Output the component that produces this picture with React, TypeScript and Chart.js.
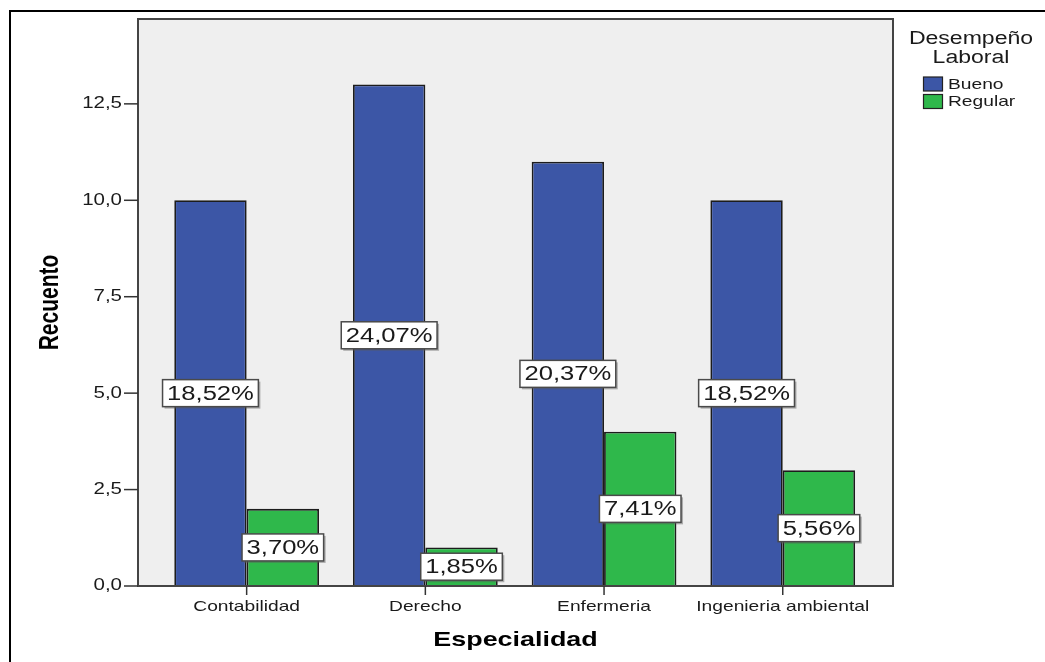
import { useEffect, useRef } from "react";
import { Chart, registerables } from "chart.js";

Chart.register(...registerables);

// Specialities on the x axis and counts per performance level
const CATEGORIES = ["Contabilidad", "Derecho", "Enfermeria", "Ingenieria ambiental"];
const BUENO = [10, 13, 11, 10];
const REGULAR = [2, 1, 4, 3];
const SERIES_LABELS = ["Bueno", "Regular"];
const Y_TICKS = [0, 2.5, 5, 7.5, 10, 12.5];
const LEGEND_TITLE = ["Desempeño", "Laboral"];
const X_TITLE = "Especialidad";
const Y_TITLE = "Recuento";

const BLUE = "#3c56a6";
const GREEN = "#2fb84b";
const FONT = "'Liberation Sans', Arial, sans-serif";
const SX = 1.28; // horizontal widening applied to all text

const TOTAL = [...BUENO, ...REGULAR].reduce((a, b) => a + b, 0);
const pct = (v: number) => ((v / TOTAL) * 100).toFixed(2).replace(".", ",") + "%";
const num = (v: number) => v.toFixed(1).replace(".", ",");

function text(
  ctx: CanvasRenderingContext2D,
  s: string,
  x: number,
  y: number,
  font: string,
  align: CanvasTextAlign,
  baseline: CanvasTextBaseline,
  color: string,
  rotate = 0
) {
  ctx.save();
  ctx.translate(x, y);
  ctx.scale(SX, 1);
  if (rotate) ctx.rotate(rotate);
  ctx.font = font;
  ctx.textAlign = align;
  ctx.textBaseline = baseline;
  ctx.fillStyle = color;
  ctx.fillText(s, 0, 0);
  ctx.restore();
}

const decorations = {
  id: "decorations",
  beforeDraw(chart: any) {
    const { ctx, chartArea: a } = chart;
    ctx.save();
    ctx.fillStyle = "#ffffff";
    ctx.fillRect(0, 0, chart.width, chart.height);
    // outer frame
    ctx.strokeStyle = "#000000";
    ctx.lineWidth = 2;
    ctx.strokeRect(10, 11, chart.width + 20, chart.height + 20);
    // plot background
    ctx.fillStyle = "#efefef";
    ctx.fillRect(a.left, a.top, a.right - a.left, a.bottom - a.top);
    ctx.restore();
  },
  afterDatasetsDraw(chart: any) {
    const { ctx, chartArea: a, scales } = chart;
    const x = scales.x;
    const y = scales.y;
    ctx.save();

    // plot frame
    ctx.strokeStyle = "#444444";
    ctx.lineWidth = 2;
    ctx.strokeRect(a.left, a.top, a.right - a.left, a.bottom - a.top);

    // y ticks and labels
    ctx.strokeStyle = "#333333";
    ctx.lineWidth = 1.5;
    Y_TICKS.forEach((t) => {
      const py = y.getPixelForValue(t);
      ctx.beginPath();
      ctx.moveTo(a.left - 14, py);
      ctx.lineTo(a.left, py);
      ctx.stroke();
      text(ctx, num(t), a.left - 16, py, `16px ${FONT}`, "right", "middle", "#1a1a1a");
    });

    // category ticks and labels
    CATEGORIES.forEach((c, i) => {
      const px = x.getPixelForValue(i);
      ctx.beginPath();
      ctx.moveTo(px, a.bottom);
      ctx.lineTo(px, a.bottom + 9);
      ctx.stroke();
      text(ctx, c, px, a.bottom + 25, `15px ${FONT}`, "center", "alphabetic", "#1a1a1a");
    });

    // axis titles
    text(ctx, X_TITLE, (a.left + a.right) / 2, 646, `bold 21px ${FONT}`, "center", "alphabetic", "#000000");
    text(ctx, Y_TITLE, 51, (a.top + a.bottom) / 2, `bold 21px ${FONT}`, "center", "middle", "#000000", -Math.PI / 2);

    // percentage labels centred on each bar
    chart.data.datasets.forEach((ds: any, di: number) => {
      const meta = chart.getDatasetMeta(di);
      meta.data.forEach((bar: any, i: number) => {
        const v = ds.data[i].y;
        const s = pct(v);
        const cy = (bar.y + bar.base) / 2;
        ctx.font = `20px ${FONT}`;
        const w = ctx.measureText(s).width * SX + 9;
        const h = 27;
        const bx = bar.x - w / 2;
        const by = cy - h / 2;
        ctx.fillStyle = "rgba(90,90,90,0.45)";
        ctx.fillRect(bx + 2, by + 2, w, h);
        ctx.fillStyle = "#ffffff";
        ctx.fillRect(bx, by, w, h);
        ctx.strokeStyle = "#4a4a4a";
        ctx.lineWidth = 1.5;
        ctx.strokeRect(bx, by, w, h);
        text(ctx, s, bar.x, cy + 1, `20px ${FONT}`, "center", "middle", "#1a1a1a");
      });
    });

    // legend
    text(ctx, LEGEND_TITLE[0], 971, 44, `18px ${FONT}`, "center", "alphabetic", "#1a1a1a");
    text(ctx, LEGEND_TITLE[1], 971, 63, `18px ${FONT}`, "center", "alphabetic", "#1a1a1a");
    chart.data.datasets.forEach((ds: any, di: number) => {
      const top = 77 + di * 17.5;
      ctx.fillStyle = ds.backgroundColor;
      ctx.fillRect(923.5, top, 19, 14);
      ctx.strokeStyle = "#222222";
      ctx.lineWidth = 1.2;
      ctx.strokeRect(923.5, top, 19, 14);
      text(ctx, ds.label, 948, top + 7.5, `15px ${FONT}`, "left", "middle", "#1a1a1a");
    });

    ctx.restore();
  },
};

export default function App() {
  const ref = useRef<HTMLCanvasElement | null>(null);

  useEffect(() => {
    document.body.style.margin = "0";
    if (!ref.current) return;
    const toPoints = (vals: number[]) => vals.map((v, i) => ({ x: i, y: v }));
    const chart = new Chart(ref.current, {
      type: "bar",
      data: {
        datasets: [
          {
            label: SERIES_LABELS[0],
            data: toPoints(BUENO),
            backgroundColor: BLUE,
            borderColor: "#1c1c1c",
            borderWidth: 1.8,
          },
          {
            label: SERIES_LABELS[1],
            data: toPoints(REGULAR),
            backgroundColor: GREEN,
            borderColor: "#1c1c1c",
            borderWidth: 1.8,
          },
        ] as any,
      },
      options: {
        responsive: false,
        animation: false,
        devicePixelRatio: 1,
        datasets: { bar: { categoryPercentage: 0.81, barPercentage: 1 } },
        layout: { padding: { left: 138, right: 152, top: 19, bottom: 76 } },
        plugins: { legend: { display: false }, tooltip: { enabled: false } },
        scales: {
          x: {
            type: "linear",
            display: false,
            offset: false,
            grid: { offset: false },
            min: -0.608,
            max: CATEGORIES.length - 1 + 0.617,
            afterBuildTicks: (s: any) => {
              s.ticks = CATEGORIES.map((_, i) => ({ value: i }));
            },
          },
          y: { type: "linear", display: false, min: 0, max: 14.7 },
        },
      } as any,
      plugins: [decorations],
    });
    return () => chart.destroy();
  }, []);

  return <canvas ref={ref} width={1045} height={662} style={{ display: "block" }} />;
}
